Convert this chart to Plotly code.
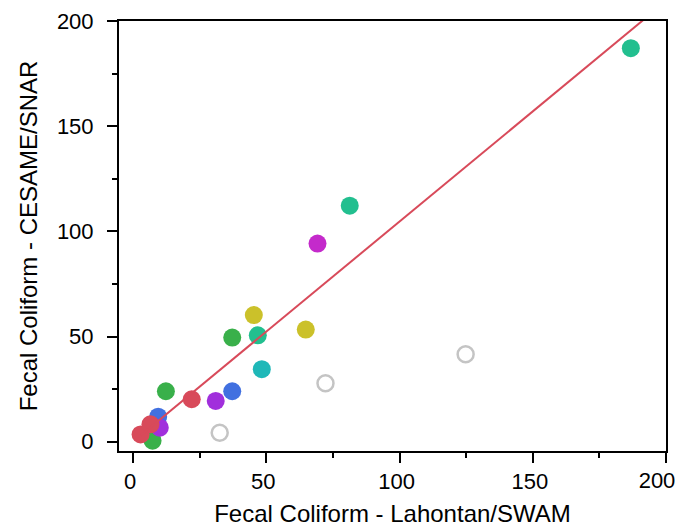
import plotly.graph_objects as go

# Data values (x = Lahontan/SWAM, y = CESAME/SNAR)
gray_x = [32.5, 72.2, 124.8]
gray_y = [4.3, 27.8, 41.6]
green_x = [7.3, 12.3, 37.2]
green_y = [0.5, 24.0, 49.5]
teal_x = [46.8, 81.3, 186.8]
teal_y = [50.6, 112.2, 187.1]
cyan_x = [48.3]
cyan_y = [34.5]
yellow_x = [45.3, 64.8]
yellow_y = [60.2, 53.3]
magenta_x = [69.2]
magenta_y = [94.2]
blue_x = [9.4, 37.2]
blue_y = [11.9, 24.0]
purple_x = [10.0, 31.0]
purple_y = [6.7, 19.4]
red_x = [2.8, 6.5, 22.0]
red_y = [3.5, 8.3, 20.2]
fit_x = [2.8, 200.0]
fit_slope = 1.047

x_ticks = [0, 50, 100, 150, 200]
x_ticktext = ["0", "50", "100", "150", ""]
x_last_tick = [200]
x_last_text = ["200"]

groups = [
    (green_x, green_y, "#39b04a"),
    (teal_x, teal_y, "#22bf8f"),
    (cyan_x, cyan_y, "#1fb8b8"),
    (yellow_x, yellow_y, "#cbc12a"),
    (magenta_x, magenta_y, "#c42acb"),
    (blue_x, blue_y, "#4170e0"),
    (purple_x, purple_y, "#a12fdc"),
    (red_x, red_y, "#d84a5a"),
]

FONT = "Liberation Sans, Arial"
X_RANGE = [-5.3, 200]
Y_RANGE = [-4.4, 200]

fig = go.Figure()
fig.add_trace(go.Scatter(x=gray_x, y=gray_y, mode="markers",
                         marker=dict(symbol="circle-open", size=16, color="#c4c4c4",
                                     line=dict(width=2.5, color="#c4c4c4")),
                         showlegend=False))
for gx, gy, col in groups:
    fig.add_trace(go.Scatter(x=gx, y=gy, mode="markers",
                             marker=dict(size=18, color=col, line=dict(width=0)),
                             showlegend=False))
fig.add_trace(go.Scatter(x=fit_x, y=[v * fit_slope for v in fit_x], mode="lines",
                         line=dict(color="#d84a5a", width=2), showlegend=False))
# empty trace to hold the overlay axis used for the last x tick label
fig.add_trace(go.Scatter(x=[], y=[], xaxis="x2", yaxis="y", showlegend=False, hoverinfo="skip"))

axis_common = dict(
    showline=True, linecolor="black", linewidth=2, mirror=True,
    ticks="outside", ticklen=10, tickwidth=2, tickcolor="black",
    showgrid=False, zeroline=False,
    ticklabeloverflow="allow", automargin=False,
    tickfont=dict(family=FONT, size=22, color="black"),
    minor=dict(ticks="outside", ticklen=5, tickwidth=2, tickcolor="black", dtick=25, showgrid=False),
)

fig.update_layout(
    xaxis=dict(range=X_RANGE, tickvals=x_ticks, ticktext=x_ticktext, ticklabelshift=-3,
               title=dict(text="Fecal Coliform - Lahontan/SWAM",
                          font=dict(family=FONT, size=24, color="black"), standoff=12),
               **axis_common),
    yaxis=dict(range=Y_RANGE, dtick=50, tick0=0, ticklabelstandoff=9,
               title=dict(text="Fecal Coliform - CESAME/SNAR",
                          font=dict(family=FONT, size=24, color="black"), standoff=12),
               **axis_common),
    xaxis2=dict(range=X_RANGE, overlaying="x", side="bottom", anchor="y",
                tickvals=x_last_tick, ticktext=x_last_text, ticklabelshift=-9,
                showline=False, ticks="outside", ticklen=10, tickwidth=2,
                tickcolor="rgba(0,0,0,0)", showgrid=False, zeroline=False,
                ticklabeloverflow="allow", automargin=False,
                tickfont=dict(family=FONT, size=22, color="black")),
    width=679, height=529, margin=dict(l=119, r=13, t=21, b=78),
    plot_bgcolor="white", paper_bgcolor="white",
)
fig.write_html("out.html")
